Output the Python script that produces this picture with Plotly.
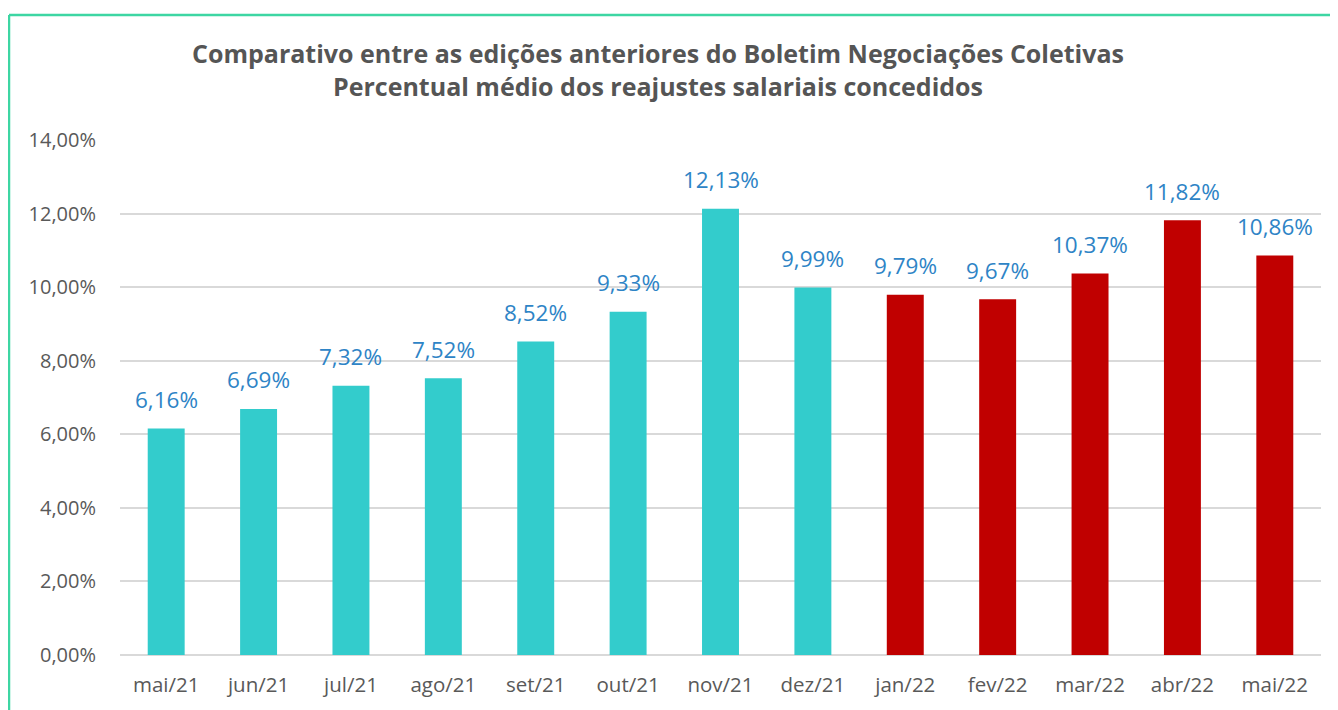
import plotly.graph_objects as go

categories = ["mai/21", "jun/21", "jul/21", "ago/21", "set/21", "out/21", "nov/21",
              "dez/21", "jan/22", "fev/22", "mar/22", "abr/22", "mai/22"]
values = [6.16, 6.69, 7.32, 7.52, 8.52, 9.33, 12.13, 9.99, 9.79, 9.67, 10.37, 11.82, 10.86]
year_group = ["2021"] * 8 + ["2022"] * 5
tick_vals = [0, 2, 4, 6, 8, 10, 12, 14]

def pct(v):
    return f"{v:.2f}%".replace(".", ",")

color_map = {"2021": "#33CCCC", "2022": "#C00000"}
colors = [color_map[g] for g in year_group]

# page body has an 8px margin, so the figure sits at (8, 8)
W, H = 1330, 702
L, T = 112, 132
pw, ph = 1201, 515
R, B = W - L - pw, H - T - ph

fig = go.Figure()
fig.add_trace(go.Bar(
    x=categories, y=values, marker=dict(color=colors, line=dict(width=0)),
    hoverinfo="x+y", showlegend=False,
))

for c, v in zip(categories, values):
    fig.add_annotation(
        x=c, y=v, text=pct(v), showarrow=False,
        yanchor="middle", yshift=29,
        font=dict(family="Open Sans", size=22.5, color="#2E84C6"),
    )

def px_x(p):
    return (p - L) / pw

def px_y(p):
    return 1 - (p - T) / ph

border = "#3DD6A3"
fig.add_shape(type="line", xref="paper", yref="paper", x0=px_x(1), x1=px_x(1340),
              y0=px_y(7), y1=px_y(7), line=dict(color=border, width=2.5))
fig.add_shape(type="line", xref="paper", yref="paper", x0=px_x(1), x1=px_x(1),
              y0=px_y(7), y1=px_y(710), line=dict(color=border, width=2.5))

fig.update_layout(
    width=W, height=H,
    margin=dict(l=L, r=R, t=T, b=B),
    paper_bgcolor="white", plot_bgcolor="white",
    bargap=0.6,
    title=dict(
        text="Comparativo entre as edições anteriores do Boletim Negociações Coletivas<br>"
             "Percentual médio dos reajustes salariais concedidos",
        x=650 / W, xanchor="center", y=1 - 55 / H, yanchor="middle",
        font=dict(family="Open Sans", size=25, color="#555555", weight="bold"),
    ),
    xaxis=dict(
        type="category", showgrid=False, showline=False, ticks="",
        ticklabelstandoff=15,
        tickfont=dict(family="Open Sans", size=20.5, color="#595959"),
    ),
    yaxis=dict(
        range=[0, 14], tickvals=tick_vals, ticktext=[pct(v) for v in tick_vals],
        showgrid=True, gridcolor="#D9D9D9", gridwidth=1.5, zeroline=True,
        zerolinecolor="#D9D9D9", zerolinewidth=1.5, showline=False, ticks="",
        ticklabelstandoff=23,
        tickfont=dict(family="Open Sans", size=20, color="#595959"),
    ),
)

fig.write_html("out.html")
